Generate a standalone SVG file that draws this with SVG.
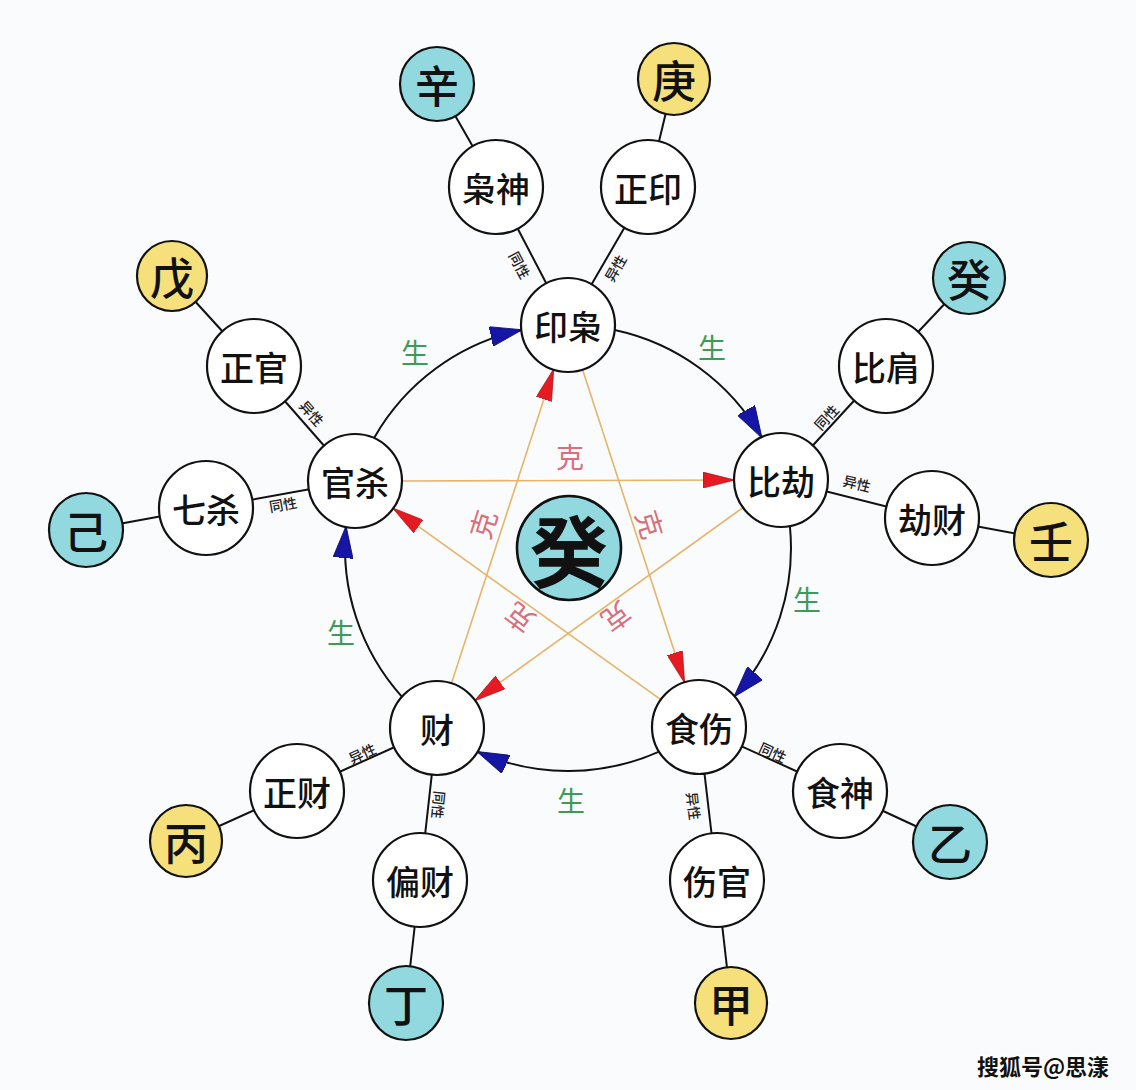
<svg xmlns="http://www.w3.org/2000/svg" width="1136" height="1090" viewBox="0 0 1136 1090">
<defs>
<style>
.n circle{fill:#fff;stroke:#111;stroke-width:2.2}
.n.c circle{fill:#92D9DF}
.n.y circle{fill:#F5E07C}
.n text{font-family:"Noto Sans CJK SC","Noto Sans CJK TC",sans-serif;fill:#111;text-anchor:middle;dominant-baseline:central}
.t{font-size:34px;font-weight:500}
.s{font-size:44px;font-weight:500}
.link{stroke:#111;stroke-width:2;fill:none}
.arc{stroke:#111;stroke-width:2;fill:none}
.ke{stroke:#E6B46A;stroke-width:1.6;fill:none}
.lbl{font-family:"Noto Sans CJK SC",sans-serif;text-anchor:middle;dominant-baseline:central}
.sheng{font-size:28px;fill:#3E9A55}
.kek{font-size:28px;fill:#D8707C}
.sx{font-size:14px;fill:#222;font-weight:500}
</style>
<marker id="ab" viewBox="0 0 32 20" refX="31" refY="10" markerWidth="32" markerHeight="20" orient="auto" markerUnits="userSpaceOnUse">
<path d="M0,0 L32,10 L0,20 Z" fill="#1616A6" stroke="#0a0a60" stroke-width="0.8"/>
</marker>
<marker id="ar" viewBox="0 0 32 16" refX="31" refY="8" markerWidth="32" markerHeight="16" orient="auto" markerUnits="userSpaceOnUse">
<path d="M0,0 L32,8 L0,16 Z" fill="#E51A22" stroke="#9a1010" stroke-width="0.6"/>
</marker>
</defs>
<rect width="1136" height="1090" fill="#FAFBFC"/>

<g id="connectors">
<line class="link" x1="568" y1="325" x2="496" y2="187"/>
<line class="link" x1="568" y1="325" x2="648" y2="187"/>
<line class="link" x1="496" y1="187" x2="437" y2="84"/>
<line class="link" x1="648" y1="187" x2="674" y2="79"/>
<line class="link" x1="355" y1="481" x2="254" y2="366"/>
<line class="link" x1="355" y1="481" x2="206" y2="508"/>
<line class="link" x1="254" y1="366" x2="172" y2="276"/>
<line class="link" x1="206" y1="508" x2="86" y2="530"/>
<line class="link" x1="781" y1="480" x2="886" y2="366"/>
<line class="link" x1="781" y1="480" x2="932" y2="518"/>
<line class="link" x1="886" y1="366" x2="969" y2="278"/>
<line class="link" x1="932" y1="518" x2="1051" y2="540"/>
<line class="link" x1="437" y1="728" x2="297" y2="791"/>
<line class="link" x1="437" y1="728" x2="420" y2="880"/>
<line class="link" x1="297" y1="791" x2="186" y2="841"/>
<line class="link" x1="420" y1="880" x2="406" y2="1003"/>
<line class="link" x1="699" y1="727" x2="840" y2="791"/>
<line class="link" x1="699" y1="727" x2="717" y2="880"/>
<line class="link" x1="840" y1="791" x2="950" y2="842"/>
<line class="link" x1="717" y1="880" x2="731" y2="1003"/>
<path class="arc" d="M374.1,437.9 A223,223 0 0 1 521.3,330.0" marker-end="url(#ab)"/>
<path class="arc" d="M614.7,330.0 A223,223 0 0 1 761.5,437.2" marker-end="url(#ab)"/>
<path class="arc" d="M789.9,526.2 A223,223 0 0 1 734.5,696.3" marker-end="url(#ab)"/>
<path class="arc" d="M659.1,751.6 A223,223 0 0 1 477.7,751.9" marker-end="url(#ab)"/>
<path class="arc" d="M402.0,696.9 A223,223 0 0 1 346.0,527.0" marker-end="url(#ab)"/>
<line class="ke" x1="402" y1="481" x2="734" y2="480" marker-end="url(#ar)"/>
<line class="ke" x1="743" y1="507.5" x2="475" y2="700.5" marker-end="url(#ar)"/>
<line class="ke" x1="451.5" y1="683.3" x2="553.5" y2="369.7" marker-end="url(#ar)"/>
<line class="ke" x1="582.6" y1="369.7" x2="684.4" y2="682.3" marker-end="url(#ar)"/>
<line class="ke" x1="660.8" y1="699.7" x2="393.2" y2="508.4" marker-end="url(#ar)"/>
<text class="lbl sheng" x="415" y="352">生</text>
<text class="lbl sheng" x="712" y="347">生</text>
<text class="lbl sheng" x="807" y="599">生</text>
<text class="lbl sheng" x="571" y="800">生</text>
<text class="lbl sheng" x="341" y="632">生</text>
<text class="lbl kek" transform="translate(570,456)">克</text>
<text class="lbl kek" transform="translate(482,524) rotate(-72.6)">克</text>
<text class="lbl kek" transform="translate(651,524) rotate(72.6)">克</text>
<text class="lbl kek" transform="translate(519,619) rotate(-143)">克</text>
<text class="lbl kek" transform="translate(617,618) rotate(144)">克</text>
<text class="lbl sx" transform="translate(520,265) rotate(62.4)">同性</text>
<text class="lbl sx" transform="translate(615,268) rotate(-60)">异性</text>
<text class="lbl sx" transform="translate(312,413) rotate(48.7)">异性</text>
<text class="lbl sx" transform="translate(283,504) rotate(-10)">同性</text>
<text class="lbl sx" transform="translate(826,417) rotate(-47.4)">同性</text>
<text class="lbl sx" transform="translate(857,483) rotate(14)">异性</text>
<text class="lbl sx" transform="translate(362,753) rotate(-24)">异性</text>
<text class="lbl sx" transform="translate(439,805) rotate(96)">同性</text>
<text class="lbl sx" transform="translate(773,752) rotate(24.4)">同性</text>
<text class="lbl sx" transform="translate(694,806) rotate(83)">异性</text>
</g>

<g id="node-center" class="n c"><circle cx="569" cy="548" r="52" style="stroke-width:2.6"/><text x="569" y="548" style="font-size:78px;font-weight:bold">癸</text></g>

<g id="node-yinxiao" class="n"><circle cx="568" cy="325" r="47"/><text class="t" x="568" y="325">印枭</text></g>
<g id="node-bijie" class="n"><circle cx="781" cy="480" r="47"/><text class="t" x="781" y="480">比劫</text></g>
<g id="node-shishang" class="n"><circle cx="699" cy="727" r="47"/><text class="t" x="699" y="727">食伤</text></g>
<g id="node-cai" class="n"><circle cx="437" cy="728" r="47"/><text class="t" x="437" y="728">财</text></g>
<g id="node-guansha" class="n"><circle cx="355" cy="481" r="47"/><text class="t" x="355" y="481">官杀</text></g>

<g id="node-xiaoshen" class="n"><circle cx="496" cy="187" r="47"/><text class="t" x="496" y="187">枭神</text></g>
<g id="node-zhengyin" class="n"><circle cx="648" cy="187" r="47"/><text class="t" x="648" y="187">正印</text></g>
<g id="node-zhengguan" class="n"><circle cx="254" cy="366" r="47"/><text class="t" x="254" y="366">正官</text></g>
<g id="node-qisha" class="n"><circle cx="206" cy="508" r="47"/><text class="t" x="206" y="508">七杀</text></g>
<g id="node-bijian" class="n"><circle cx="886" cy="366" r="47"/><text class="t" x="886" y="366">比肩</text></g>
<g id="node-jiecai" class="n"><circle cx="932" cy="518" r="47"/><text class="t" x="932" y="518">劫财</text></g>
<g id="node-zhengcai" class="n"><circle cx="297" cy="791" r="47"/><text class="t" x="297" y="791">正财</text></g>
<g id="node-piancai" class="n"><circle cx="420" cy="880" r="47"/><text class="t" x="420" y="880">偏财</text></g>
<g id="node-shishen" class="n"><circle cx="840" cy="791" r="47"/><text class="t" x="840" y="791">食神</text></g>
<g id="node-shangguan" class="n"><circle cx="717" cy="880" r="47"/><text class="t" x="717" y="880">伤官</text></g>

<g id="stem-xin" class="n c"><circle cx="437" cy="84" r="37"/><text class="s" x="437" y="84">辛</text></g>
<g id="stem-geng" class="n y"><circle cx="674" cy="79" r="36"/><text class="s" x="674" y="79">庚</text></g>
<g id="stem-wu" class="n y"><circle cx="172" cy="276" r="35"/><text class="s" x="172" y="276">戊</text></g>
<g id="stem-ji" class="n c"><circle cx="86" cy="530" r="37"/><text class="s" x="86" y="530">己</text></g>
<g id="stem-gui" class="n c"><circle cx="969" cy="278" r="36"/><text class="s" x="969" y="278">癸</text></g>
<g id="stem-ren" class="n y"><circle cx="1051" cy="540" r="37"/><text class="s" x="1051" y="540">壬</text></g>
<g id="stem-bing" class="n y"><circle cx="186" cy="841" r="36"/><text class="s" x="186" y="841">丙</text></g>
<g id="stem-ding" class="n c"><circle cx="406" cy="1003" r="37"/><text class="s" x="406" y="1003">丁</text></g>
<g id="stem-yi" class="n c"><circle cx="950" cy="842" r="37"/><text class="s" x="950" y="842">乙</text></g>
<g id="stem-jia" class="n y"><circle cx="731" cy="1003" r="36"/><text class="s" x="731" y="1003">甲</text></g>

<text x="1043" y="1065" style="font-family:'Noto Sans CJK SC',sans-serif;font-size:22px;font-weight:bold;fill:#111;text-anchor:middle;dominant-baseline:central;stroke:#fff;stroke-width:3;paint-order:stroke">搜狐号@思漾</text>
</svg>
